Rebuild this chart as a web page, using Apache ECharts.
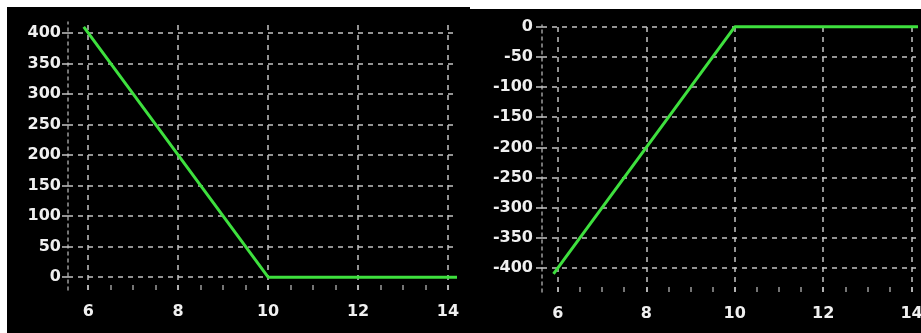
<!DOCTYPE html>
<html>
<head>
<meta charset="utf-8">
<script src="https://cdn.jsdelivr.net/npm/echarts@6/dist/echarts.min.js"></script>
<style>
  html, body { margin: 0; padding: 0; background: #ffffff; }
  #bgL { position: absolute; left: 7px; top: 7px; width: 463px; height: 326px; background: #000; }
  #bgR { position: absolute; left: 470px; top: 9px; width: 451px; height: 324px; background: #000; }
  #chart { position: absolute; left: 0; top: 0; width: 921px; height: 333px; }
</style>
</head>
<body>
<div id="bgL"></div>
<div id="bgR"></div>
<div id="chart"></div>
<script>
// Data
const priceX = [5.9, 10, 14.2];
const callPayoff = [410, 0, 0];
const putPayoff = [-410, 0, 0];

// Tick labels
const xTicks = [6, 8, 10, 12, 14];
const xMinorTicks = [6, 6.5, 7, 7.5, 8, 8.5, 9, 9.5, 10, 10.5, 11, 11.5, 12, 12.5, 13, 13.5, 14];
const yTicksLeft = [0, 50, 100, 150, 200, 250, 300, 350, 400];
const yTicksRight = [0, -50, -100, -150, -200, -250, -300, -350, -400];

const gridColor = '#c4c4c4';
const labelFont = { color: '#f0f0f0', fontFamily: 'DejaVu Sans', fontSize: 16, fontWeight: 'bold' };

function gridLines(xs, ys) {
  return {
    silent: true,
    symbol: 'none',
    label: { show: false },
    lineStyle: { color: gridColor, type: [5, 5], width: 1.5, opacity: 1 },
    emphasis: { disabled: true },
    data: xs.map(v => ({ xAxis: v })).concat(ys.map(v => ({ yAxis: v })))
  };
}

function pairs(xs, ys) { return xs.map((x, i) => [x, ys[i]]); }

const xAxisBase = (gi, min, max, margin) => ({
  type: 'value', gridIndex: gi, min: min, max: max,
  splitLine: { show: false },
  axisLine: { show: false, onZero: false },
  axisTick: { show: true, inside: true, length: 5, customValues: xMinorTicks,
              lineStyle: { color: '#9a9a9a', width: 1.5 } },
  axisLabel: Object.assign({ customValues: xTicks, margin: margin }, labelFont)
});

const yAxisBase = (gi, min, max, ticks, margin) => ({
  type: 'value', gridIndex: gi, min: min, max: max,
  splitLine: { show: false },
  axisLine: { show: true, onZero: false, lineStyle: { color: '#9a9a9a', type: [3, 4], width: 1.5 } },
  axisTick: { show: true, length: 6, customValues: ticks, lineStyle: { color: gridColor, width: 1.5 } },
  axisLabel: Object.assign({ customValues: ticks, margin: margin }, labelFont)
});

const chart = echarts.init(document.getElementById('chart'), null, { renderer: 'canvas' });
chart.setOption({
  backgroundColor: 'transparent',
  animation: false,
  grid: [
    { left: 68, right: 464, top: 22, bottom: 43, outerBoundsMode: 'none' },
    { left: 542, right: 5, top: 25, bottom: 41, outerBoundsMode: 'none' }
  ],
  xAxis: [
    xAxisBase(0, 5.55, 14.2, 14),
    xAxisBase(1, 5.64, 14.1, 14)
  ],
  yAxis: [
    yAxisBase(0, -21, 418, yTicksLeft, 7),
    yAxisBase(1, -440, 3, yTicksRight, 9)
  ],
  series: [
    {
      type: 'line', xAxisIndex: 0, yAxisIndex: 0,
      data: pairs(priceX, callPayoff),
      showSymbol: false, clip: false,
      lineStyle: { color: '#3ee03e', width: 3 },
      markLine: gridLines(xTicks, yTicksLeft),
      z: 5
    },
    {
      type: 'line', xAxisIndex: 1, yAxisIndex: 1,
      data: pairs(priceX, putPayoff),
      showSymbol: false, clip: false,
      lineStyle: { color: '#3ee03e', width: 3 },
      markLine: gridLines(xTicks, yTicksRight),
      z: 5
    }
  ]
});
</script>
</body>
</html>
